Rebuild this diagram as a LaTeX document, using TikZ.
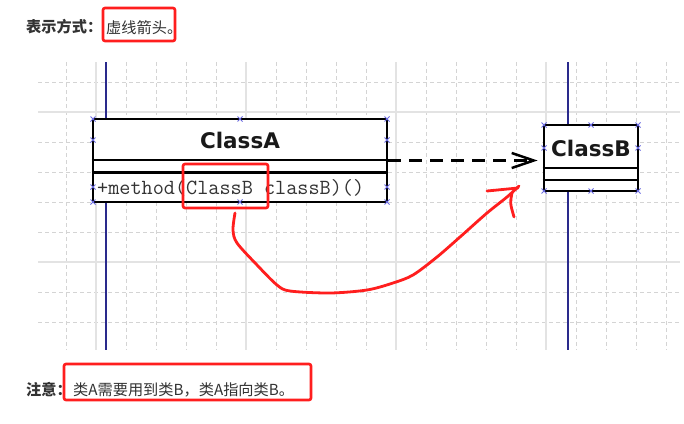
\documentclass[tikz,border=0pt]{standalone}
\usepackage{fontspec}
\newfontfamily\cjk{Noto Sans CJK SC}
\newfontfamily\umlfont{DejaVu Sans}
\usetikzlibrary{arrows.meta}
\definecolor{txtc}{HTML}{333333}
\definecolor{navyc}{HTML}{2A2A8C}
\definecolor{markc}{HTML}{6A6AE0}
\definecolor{redc}{HTML}{FF1E1E}
\tikzset{
  gridd/.style={draw=black!17, line width=0.9pt, dash pattern=on 4pt off 3pt},
  grids/.style={draw=black!11, line width=1.6pt},
  life/.style={draw=navyc, line width=1.6pt},
  umlbox/.style={draw=black, line width=2.8pt, fill=white, inner sep=0pt},
  umlsep/.style={draw=black, line width=2.8pt},
  mk/.style={draw=markc, line width=0.8pt},
  redbox/.style={draw=redc, line width=2.6pt, rounded corners=2pt},
  redpen/.style={draw=redc, line width=2.8pt, line cap=round, line join=round},
  depend/.style={draw=black, line width=2.5pt, dash pattern=on 13pt off 8pt,
    -{Straight Barb[length=22pt,width=15pt]}},
  cjklabel/.style={anchor=west, inner sep=0pt, text=txtc, font=\cjk\fontsize{15.2}{17}\selectfont},
  clsname/.style={inner sep=0pt, text=black!90, font=\umlfont\bfseries\fontsize{21.5}{24}\selectfont},
  member/.style={anchor=west, inner sep=0pt, text=black!80, font=\ttfamily\fontsize{21.6}{23}\selectfont}
}
\begin{document}
\begin{tikzpicture}[x=1pt,y=-1pt]
\fill[white] (0,0) rectangle (684,423);
\useasboundingbox (0,0) rectangle (684,423);

% grid
\foreach \x in {66,96,...,666} \draw[gridd] (\x,62) -- (\x,350);
\foreach \y in {82,112,...,322} \draw[gridd] (38,\y) -- (680,\y);
\foreach \x in {96,246,396,546} \draw[grids] (\x,62) -- (\x,350);
\foreach \y in {112,262} \draw[grids] (38,\y) -- (680,\y);

% lifelines
\draw[life] (106,62) -- (106,350);
\draw[life] (568,62) -- (568,350);

% ClassA
\node[umlbox, minimum width=294pt, minimum height=83pt] (A) at (240,160.5) {};
\draw[umlsep] (A.west |- 0,160) -- (A.east |- 0,160);
\draw[umlsep] (A.west |- 0,172.5) -- (A.east |- 0,172.5);
\node[clsname] (Aname) at (240,140) {ClassA};
\node[member] (Amethod) at (97,187.5) {+method(ClassB classB)()};

% ClassB
\node[umlbox, minimum width=94pt, minimum height=66pt] (B) at (591,158) {};
\draw[umlsep] (B.west |- 0,168) -- (B.east |- 0,168);
\draw[umlsep] (B.west |- 0,180) -- (B.east |- 0,180);
\node[clsname] (Bname) at (591,148) {ClassB};

% markers
\foreach \x/\y in {93/119,240/119,387/119,93/140,387/140,93/187,387/187,93/202,240/202,387/202,
                   544/125,591/125,638/125,544/148,638/148,544/191,591/191,638/191}
  \draw[mk] (\x-2.5,\y-2.5) -- (\x+2.5,\y+2.5) (\x-2.5,\y+2.5) -- (\x+2.5,\y-2.5);

% dependency
\draw[depend] (A.east) -- ([xshift=-5pt]A.east -| B.west);

% texts
\node[cjklabel, font=\cjk\bfseries\fontsize{15.2}{17}\selectfont] (t1) at (26,27) {表示方式：};
\node[cjklabel] (t2) at (106,28) {虚线箭头。};
\node[cjklabel, font=\cjk\bfseries\fontsize{15.2}{17}\selectfont] (n1) at (26,390) {注意：};
\node[cjklabel] (n2) at (73,390) {类A需要用到类B，类A指向类B。};

% red annotations
\draw[redbox] (103,8) rectangle (175,41);
\draw[redbox] (183,164) rectangle (268,208);
\draw[redbox] (64,364) rectangle (311,400);
\draw[redpen] plot[smooth, tension=0.5] coordinates {
  (235,213) (233,230) (237,243) (257,265) (277,285) (290,291) (330,293)
  (367,290) (393,283) (413,275) (437,257) (460,237) (487,213) (507,197) (519,186)};
\draw[redpen] (487,191) -- (518,188);
\draw[redpen] (512,193) .. controls (510,203) .. (514,217);
\end{tikzpicture}
\end{document}
